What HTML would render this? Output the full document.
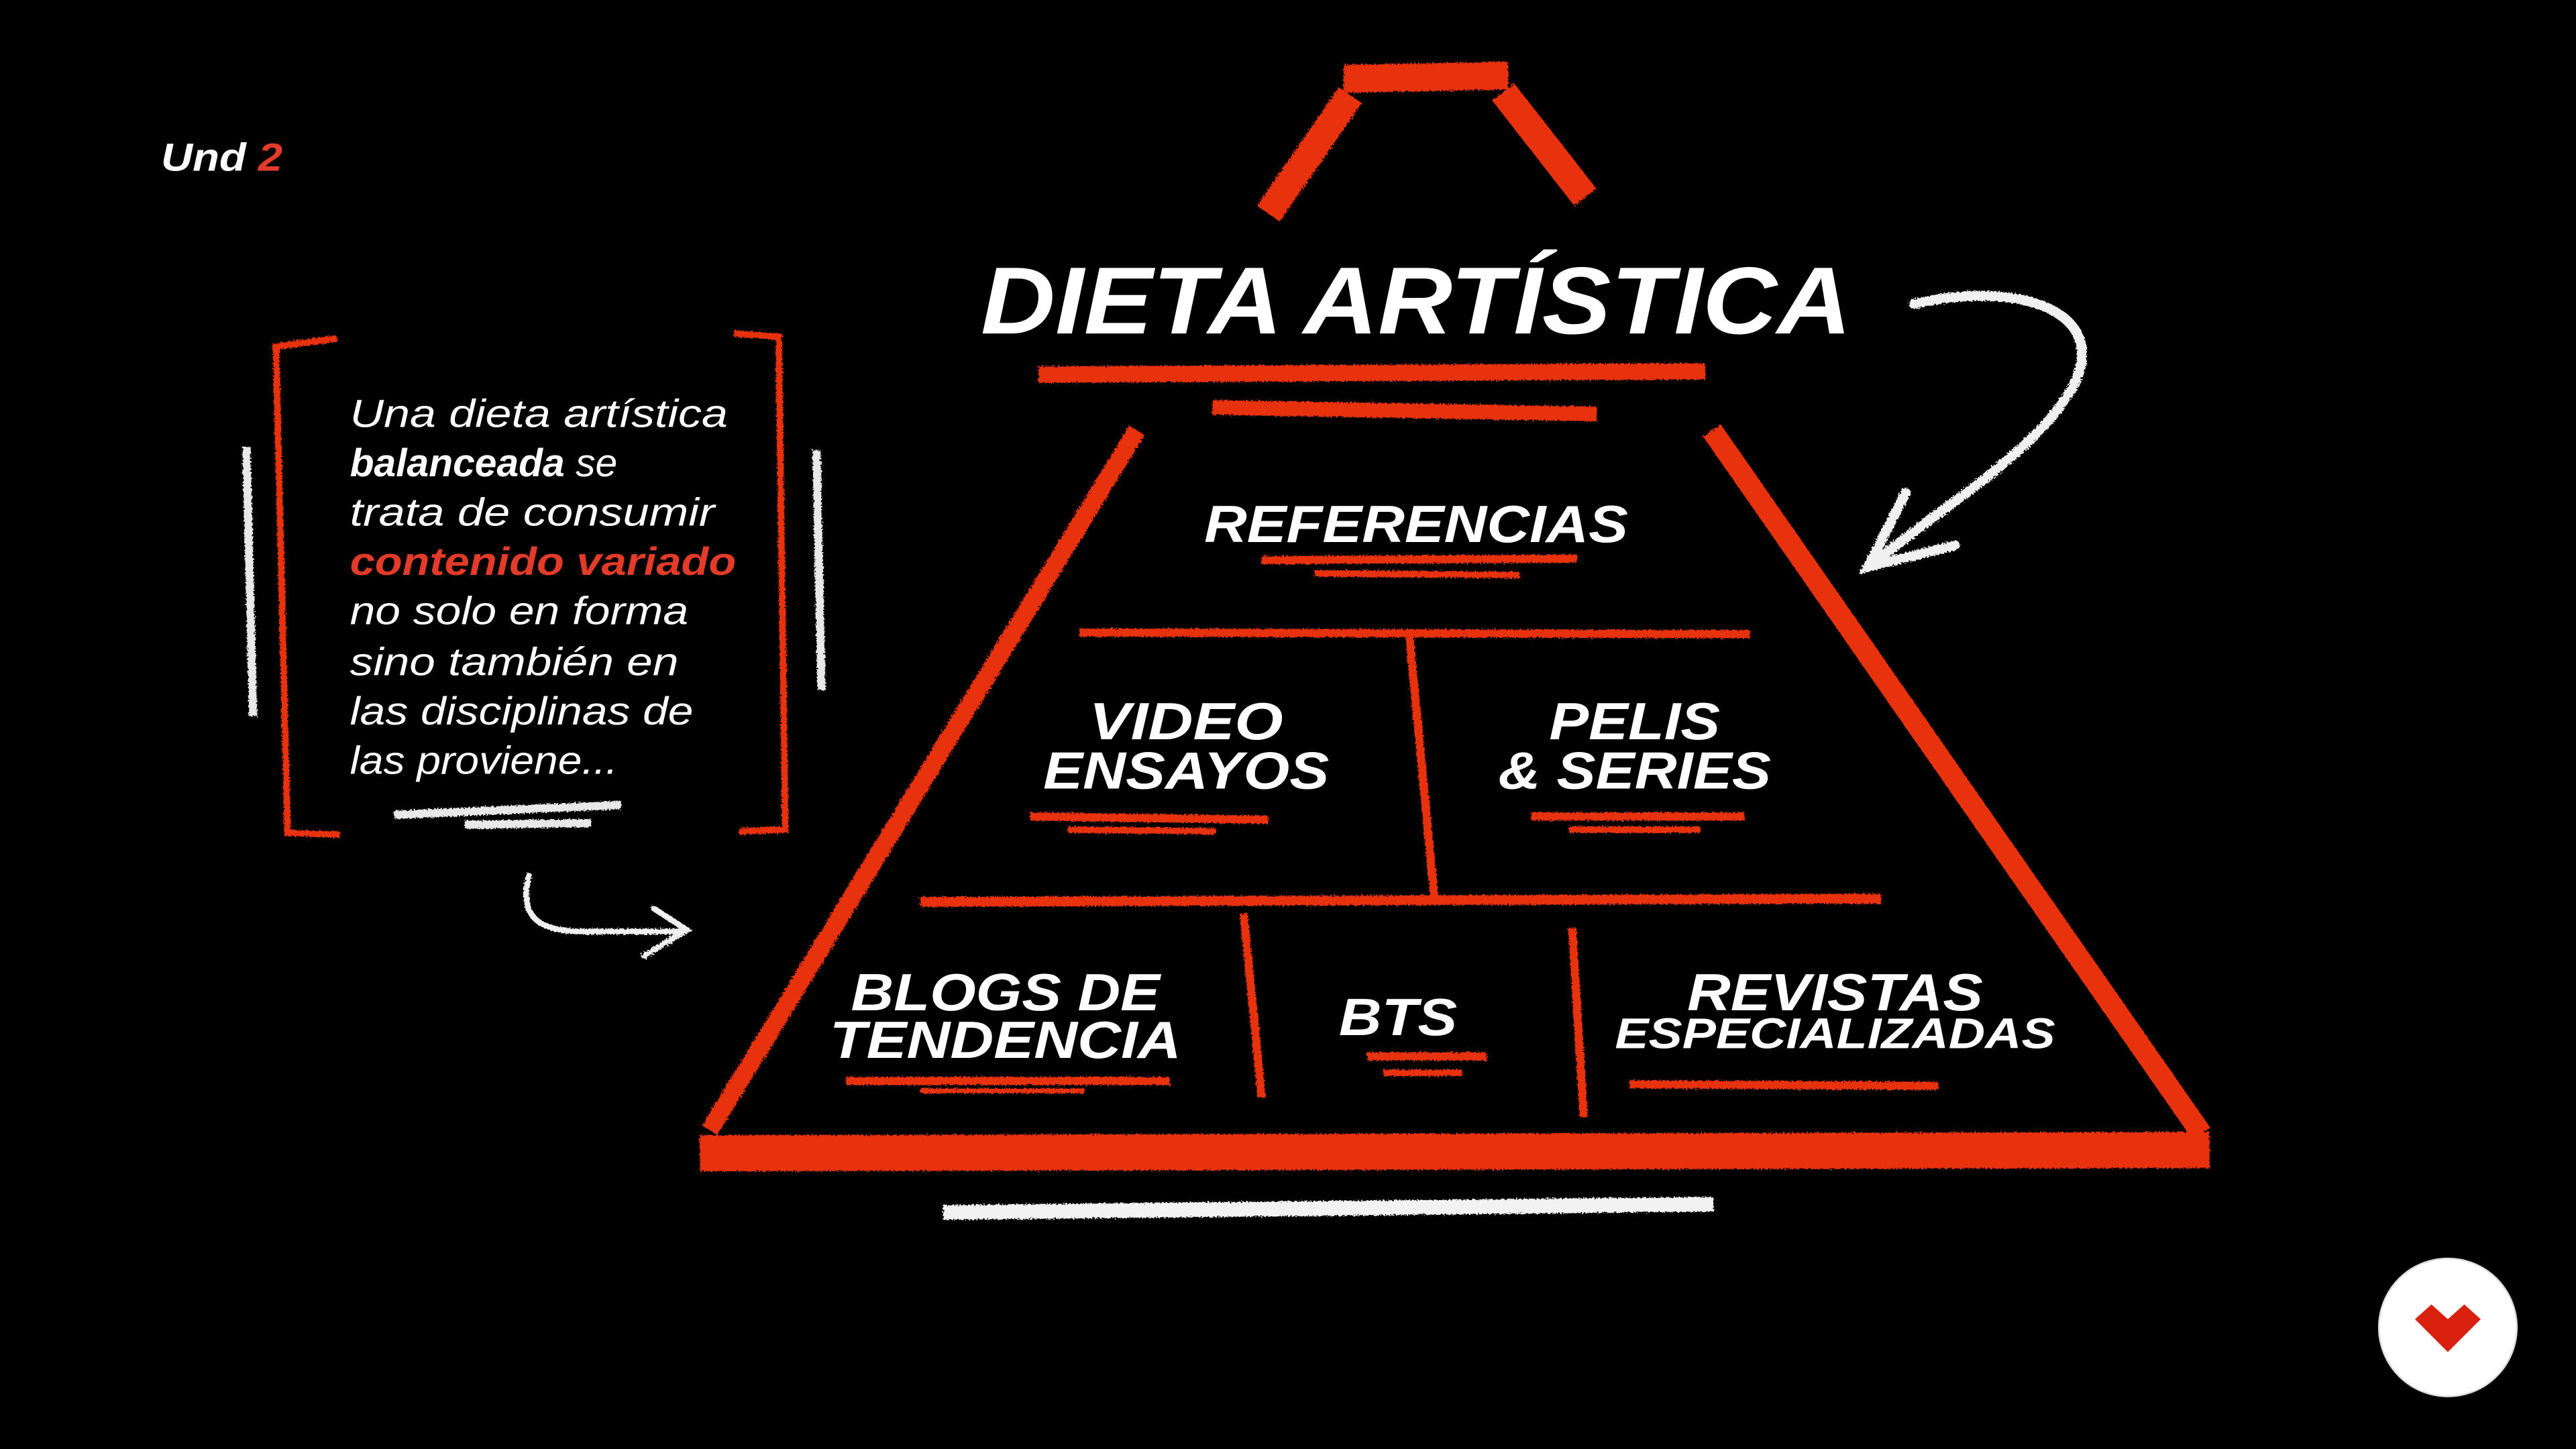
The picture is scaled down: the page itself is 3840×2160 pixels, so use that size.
<!DOCTYPE html>
<html><head><meta charset="utf-8"><style>
html,body{margin:0;padding:0;background:#000;width:3840px;height:2160px;overflow:hidden}
svg{display:block}
text{font-family:"Liberation Sans",sans-serif}
</style></head><body>
<svg width="3840" height="2160" viewBox="0 0 1568 882" xmlns="http://www.w3.org/2000/svg">
<rect width="1568" height="882" fill="#000"/>
<defs>
<filter id="r" x="-5%" y="-5%" width="110%" height="110%">
<feTurbulence type="fractalNoise" baseFrequency="0.9" numOctaves="2" result="n"/>
<feDisplacementMap in="SourceGraphic" in2="n" scale="3"/>
</filter>
</defs>
<g filter="url(#r)" stroke-linecap="butt" fill="none">
<g stroke="#e8300f" stroke-width="17">
<line x1="818" y1="48" x2="918" y2="46"/>
<line x1="822" y1="58" x2="772" y2="130"/>
<line x1="915" y1="56" x2="965" y2="120"/>
</g>
<line x1="632" y1="228" x2="1038" y2="226" stroke="#e8300f" stroke-width="10"/>
<line x1="738" y1="248" x2="972" y2="252" stroke="#e8300f" stroke-width="9"/>
<g stroke="#e8300f">
<line x1="692" y1="262" x2="432" y2="688" stroke-width="11"/>
<line x1="1042" y1="262" x2="1340" y2="690" stroke-width="13"/>
<line x1="426" y1="702" x2="1345" y2="700" stroke-width="22"/>
<line x1="657" y1="385" x2="1065" y2="386" stroke-width="5"/>
<line x1="858" y1="388" x2="873" y2="546" stroke-width="5"/>
<line x1="560" y1="549" x2="1145" y2="547" stroke-width="6"/>
<line x1="757" y1="556" x2="768" y2="668" stroke-width="5"/>
<line x1="957" y1="565" x2="964" y2="680" stroke-width="5"/>
<line x1="768" y1="341" x2="960" y2="340" stroke-width="5"/>
<line x1="800" y1="349" x2="925" y2="350" stroke-width="4"/>
<line x1="627" y1="497" x2="772" y2="499" stroke-width="5"/>
<line x1="650" y1="505" x2="740" y2="506" stroke-width="4"/>
<line x1="932" y1="497" x2="1062" y2="497" stroke-width="5"/>
<line x1="955" y1="505" x2="1035" y2="505" stroke-width="4"/>
<line x1="515" y1="658" x2="712" y2="658" stroke-width="5"/>
<line x1="560" y1="664" x2="660" y2="664" stroke-width="3"/>
<line x1="832" y1="643" x2="905" y2="643" stroke-width="5"/>
<line x1="842" y1="653" x2="890" y2="653" stroke-width="4"/>
<line x1="992" y1="660" x2="1180" y2="661" stroke-width="5"/>
</g>
<line x1="574" y1="738" x2="1043" y2="733" stroke="#f2f2f2" stroke-width="9"/>
<g stroke="#f0f0f0" stroke-width="6" stroke-linecap="round">
<path d="M1165 185 C1230 170 1285 190 1262 235 C1240 275 1180 310 1140 343"/>
<path d="M1160 300 L1137 345 L1190 332"/>
</g>
<g stroke="#e8300f" stroke-width="4">
<path d="M205 206 L168 211 L175 507 L207 508"/>
<path d="M447 203 L474 205 L478 505 L450 506"/>
</g>
<g stroke="#e8e8e8">
<line x1="150" y1="272" x2="154" y2="436" stroke-width="5"/>
<line x1="497" y1="274" x2="500" y2="420" stroke-width="5"/>
<line x1="240" y1="496" x2="378" y2="490" stroke-width="5"/>
<line x1="283" y1="502" x2="360" y2="501" stroke-width="5"/>
</g>
<g stroke="#f0f0f0" stroke-width="3.5" stroke-linecap="round">
<path d="M322 533 C315 560 330 568 360 567 L416 567"/>
<path d="M398 553 L418 566 L392 582"/>
</g>
</g>
<text x="98" y="104" font-size="24" font-weight="700" font-style="italic" fill="#fff" textLength="74" lengthAdjust="spacingAndGlyphs">Und <tspan fill="#e33b2a">2</tspan></text>
<text x="597" y="203" font-size="58" font-style="italic" fill="#fff" textLength="530" lengthAdjust="spacingAndGlyphs" style="font-weight:bold">DIETA ARTÍSTICA</text>
<g font-size="24" font-style="italic" fill="#fff" font-weight="300">
<text x="213" y="260" textLength="230" lengthAdjust="spacingAndGlyphs">Una dieta artística</text>
<text x="213" y="290"><tspan font-weight="700">balanceada</tspan> se</text>
<text x="213" y="320" textLength="222" lengthAdjust="spacingAndGlyphs">trata de consumir</text>
<text x="213" y="350" font-weight="700" fill="#e33b2a" textLength="235" lengthAdjust="spacingAndGlyphs">contenido variado</text>
<text x="213" y="380" textLength="206" lengthAdjust="spacingAndGlyphs">no solo en forma</text>
<text x="213" y="411" textLength="200" lengthAdjust="spacingAndGlyphs">sino también en</text>
<text x="213" y="441" textLength="209" lengthAdjust="spacingAndGlyphs">las disciplinas de</text>
<text x="213" y="471" textLength="163" lengthAdjust="spacingAndGlyphs">las proviene...</text>
</g>
<g font-weight="700" font-style="italic" fill="#fff" text-anchor="middle">
<text x="862" y="330" font-size="32" textLength="258" lengthAdjust="spacingAndGlyphs">REFERENCIAS</text>
<text x="722" y="450" font-size="32" textLength="118" lengthAdjust="spacingAndGlyphs">VIDEO</text>
<text x="722" y="480" font-size="32" textLength="174" lengthAdjust="spacingAndGlyphs">ENSAYOS</text>
<text x="995" y="450" font-size="32" textLength="104" lengthAdjust="spacingAndGlyphs">PELIS</text>
<text x="995" y="480" font-size="32" textLength="166" lengthAdjust="spacingAndGlyphs">&amp; SERIES</text>
<text x="612" y="615" font-size="32" textLength="188" lengthAdjust="spacingAndGlyphs">BLOGS DE</text>
<text x="612" y="644" font-size="32" textLength="214" lengthAdjust="spacingAndGlyphs">TENDENCIA</text>
<text x="851" y="630" font-size="32" textLength="72" lengthAdjust="spacingAndGlyphs">BTS</text>
<text x="1117" y="615" font-size="32" textLength="180" lengthAdjust="spacingAndGlyphs">REVISTAS</text>
<text x="1117" y="638" font-size="26" textLength="268" lengthAdjust="spacingAndGlyphs">ESPECIALIZADAS</text>
</g>
<circle cx="1490" cy="808" r="42" fill="#fff" stroke="#ddd" stroke-width="1"/>
<path d="M1470 803 L1480 794 L1490 803 L1500 794 L1510 803 L1490 823 Z" fill="#d9200f"/>
</svg>
</body></html>
